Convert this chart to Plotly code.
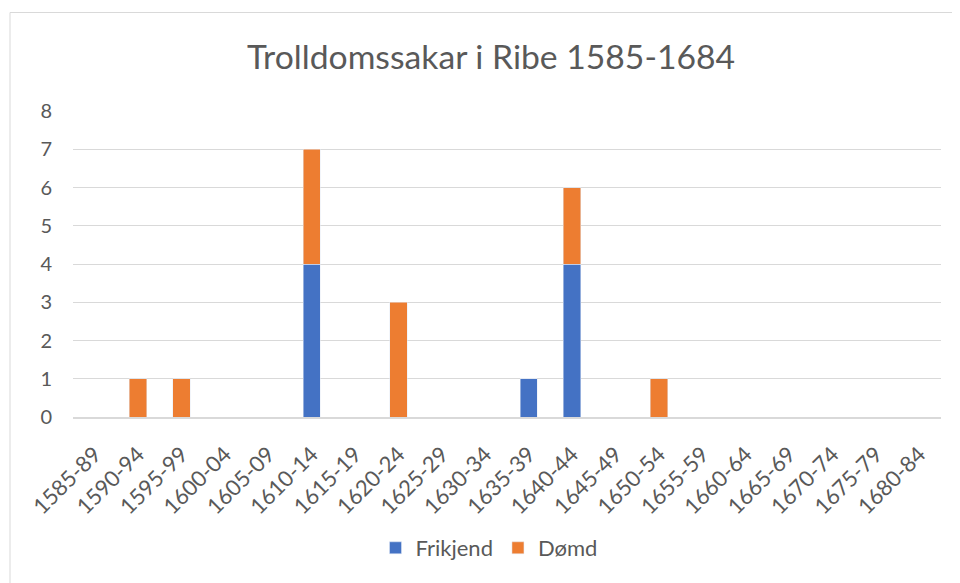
import plotly.graph_objects as go

categories = ["1585-89", "1590-94", "1595-99", "1600-04", "1605-09", "1610-14", "1615-19",
              "1620-24", "1625-29", "1630-34", "1635-39", "1640-44", "1645-49", "1650-54",
              "1655-59", "1660-64", "1665-69", "1670-74", "1675-79", "1680-84"]
frikjend = [0, 0, 0, 0, 0, 4, 0, 0, 0, 0, 1, 4, 0, 0, 0, 0, 0, 0, 0, 0]
domd = [0, 1, 1, 0, 0, 3, 0, 3, 0, 0, 0, 2, 0, 1, 0, 0, 0, 0, 0, 0]
yticks = [0, 1, 2, 3, 4, 5, 6, 7, 8]

font_family = "Lato, 'Open Sans', sans-serif"
grey = "#595959"

# page body has an 8px margin, so the figure is drawn 8px in from the window edge
W, H = 952, 575
L, R, T, B = 65, 19, 103, 166

fig = go.Figure()
fig.add_trace(go.Bar(x=categories, y=frikjend, name="Frikjend", marker_color="#4472C4"))
fig.add_trace(go.Bar(x=categories, y=domd, name="Dømd", marker_color="#ED7D31"))

plot_w = W - L - R
plot_h = H - T - B

fig.update_layout(
    barmode="stack",
    bargap=0.6,
    width=W, height=H,
    paper_bgcolor="white", plot_bgcolor="white",
    margin=dict(l=L, r=R, t=T, b=B),
    title=dict(text="Trolldomssakar i Ribe 1585-1684", x=483 / W, xanchor="center",
               y=1 - 49 / H, yanchor="middle", yref="container",
               font=dict(family=font_family, size=33.7, color=grey)),
    font=dict(family=font_family, color=grey, size=20),
    legend=dict(orientation="h", x=(481 - L) / plot_w, xanchor="center",
                y=-(540 - (H - B)) / plot_h, yanchor="middle",
                font=dict(size=22, color=grey), itemwidth=30, traceorder="normal"),
    showlegend=True,
)
fig.update_xaxes(type="category", tickangle=-45, showgrid=False, showline=True,
                 linecolor="#d9d9d9", linewidth=1.5, ticks="",
                 ticklabelstandoff=14,
                 tickfont=dict(size=22, color=grey), automargin=False)
fig.update_yaxes(range=[0, 8], tickvals=yticks, showgrid=True, gridcolor="#d9d9d9",
                 gridwidth=1.2, zeroline=False, showline=False, ticks="",
                 ticklabelstandoff=20,
                 tickfont=dict(size=20, color=grey), automargin=False)

fig.add_shape(type="rect", xref="paper", yref="paper", x0=(2 - L) / plot_w, x1=1.2,
              y0=-1.0, y1=(H - B - 4.5) / plot_h, line=dict(color="#d9d9d9", width=1))

fig.write_html("out.html")
